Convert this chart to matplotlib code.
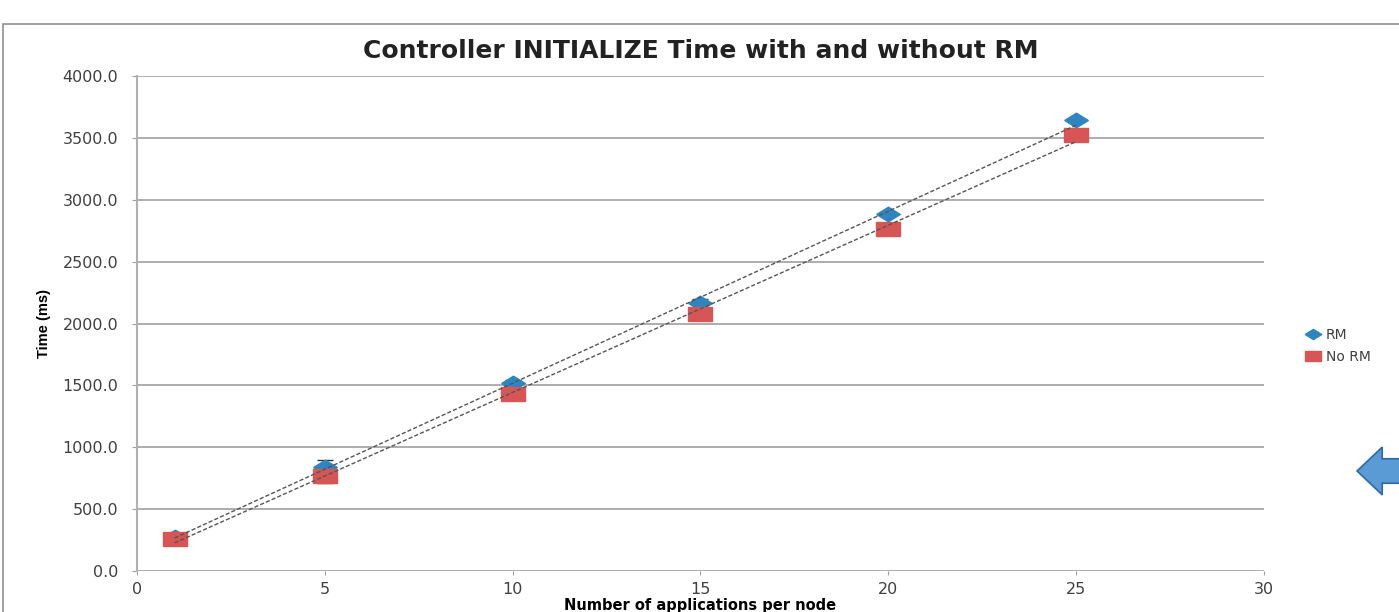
import matplotlib.pyplot as plt
from matplotlib.patches import FancyArrow, Rectangle
import numpy as np

# data
apps = [1, 5, 10, 15, 20, 25]
rm = [275, 840, 1519, 2166, 2885, 3644]
rm_err = [15, 60, 25, 30, 20, 15]
no_rm = [259, 768, 1430, 2077, 2764, 3523]
no_rm_err = [15, 60, 25, 25, 50, 15]
y_ticks = np.arange(0, 4001, 500)
x_ticks = np.arange(0, 31, 5)

blue = '#2e86c1'
red = '#d65656'
diamond = [(-1, 0), (0, 0.62), (1, 0), (0, -0.62), (-1, 0)]
rect = [(-1, -0.62), (1, -0.62), (1, 0.62), (-1, 0.62), (-1, -0.62)]

fig = plt.figure(figsize=(13.99, 6.12), dpi=100)
ax = fig.add_axes([0.0979, 0.067, 0.8056, 0.8088])

# figure frame (slide border)
fig.patches.append(Rectangle((0.002, -0.01), 1.1, 0.97, transform=fig.transFigure,
                             fill=False, edgecolor='#909090', lw=1.2))

ax.errorbar(apps, rm, yerr=rm_err, fmt='none', ecolor='#333333', elinewidth=1, capsize=6, zorder=3)
ax.errorbar(apps, no_rm, yerr=no_rm_err, fmt='none', ecolor='#333333', elinewidth=1, capsize=6, zorder=3)
ax.plot(apps, rm, linestyle='none', marker=diamond, markersize=17, color=blue, label='RM', zorder=4)
ax.plot(apps, no_rm, linestyle='none', marker=rect, markersize=17, color=red, label='No RM', zorder=4)

# linear trendlines
for ys in (rm, no_rm):
    k, b = np.polyfit(apps, ys, 1)
    xs = np.array([apps[0], apps[-1]])
    ax.plot(xs, k * xs + b, linestyle=(0, (3, 1.5)), color='#555555', lw=1, zorder=5)

ax.set_xlim(0, 30)
ax.set_ylim(0, 4000)
ax.set_xticks(x_ticks)
ax.set_yticks(y_ticks)
ax.set_yticklabels(['%.1f' % v for v in y_ticks])
ax.grid(axis='y', color='#a0a0a0', lw=1.2)
ax.set_axisbelow(True)
for s in ['top', 'right', 'bottom']:
    ax.spines[s].set_visible(False)
ax.spines['left'].set_color('#b0b0b0')
ax.spines['left'].set_linewidth(1.5)
ax.tick_params(axis='y', length=3.5, color='#a0a0a0', labelsize=11.5, pad=10, labelcolor='#404040')
ax.tick_params(axis='x', length=3, color='#a0a0a0', labelsize=11.5, pad=5, labelcolor='#404040')

ax.set_title('Controller INITIALIZE Time with and without RM', fontsize=18,
             fontweight='bold', family='DejaVu Sans', color='#222222', pad=13)
ax.set_ylabel('Time (ms)', fontsize=10.5, fontweight='bold', family='Liberation Sans', labelpad=8)
ax.set_xlabel('Number of applications per node', fontsize=10.5, fontweight='bold',
              family='DejaVu Sans', labelpad=1)

ax.legend(loc='center left', bbox_to_anchor=(1.025, 0.455), frameon=False, fontsize=10,
          handletextpad=0.3, labelspacing=0.6, markerscale=0.7, handlelength=1.2,
          labelcolor='#404040')

# arrow at the right edge
fig.patches.append(FancyArrow(1.03, 0.2304, -0.042, 0, width=0.04, head_width=0.078,
                              head_length=0.018, transform=fig.transFigure,
                              facecolor='#5b9bd5', edgecolor='#2c6aa6', lw=1.2))

plt.savefig('out.png', dpi=100)
